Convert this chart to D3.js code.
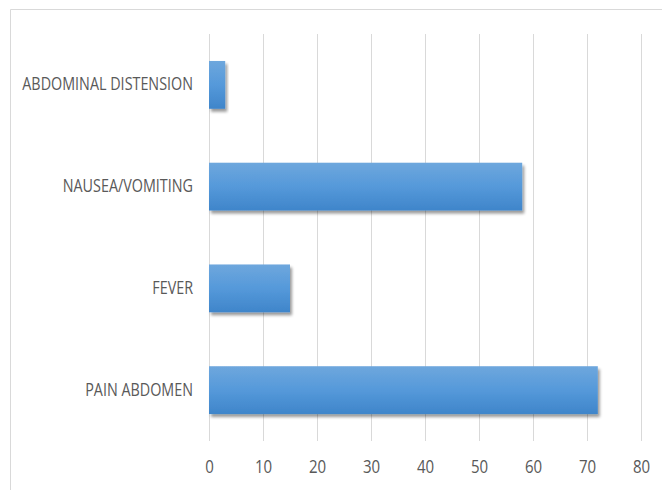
<!DOCTYPE html>
<html>
<head>
<meta charset="utf-8">
<script src="https://cdn.jsdelivr.net/npm/d3@7"></script>
<style>
  html, body { margin: 0; padding: 0; background: #fff; }
  svg { display: block; }
  text { font-family: "Open Sans", "Noto Sans", sans-serif; fill: #595959; }
</style>
</head>
<body>
<svg id="chart" width="662" height="490"></svg>
<script>
// Symptom counts
const categories = ["ABDOMINAL DISTENSION", "NAUSEA/VOMITING", "FEVER", "PAIN ABDOMEN"];
const values = [3, 58, 15, 72];
const xTicks = [0, 10, 20, 30, 40, 50, 60, 70, 80];

const svg = d3.select("#chart");
const W = 662, H = 490;
const plot = { left: 209, right: 641, top: 34, bottom: 441 };
const fontSize = 17.5;
const squeeze = 0.82;      // condensed look for labels
const tickSqueeze = 0.86;

// Outer chart frame (top and left edges visible)
svg.append("line").attr("x1", 10.5).attr("x2", W).attr("y1", 9.5).attr("y2", 9.5)
  .attr("stroke", "#d9d9d9").attr("stroke-width", 1);
svg.append("line").attr("x1", 10.5).attr("x2", 10.5).attr("y1", 9.5).attr("y2", H)
  .attr("stroke", "#d9d9d9").attr("stroke-width", 1);

const x = d3.scaleLinear().domain([0, 80]).range([plot.left, plot.right]);
const y = d3.scaleBand().domain(categories).range([plot.top, plot.bottom]).paddingInner(0.53).paddingOuter(0.265);

// Defs: bar gradient and soft shadow
const defs = svg.append("defs");
const grad = defs.append("linearGradient").attr("id", "barGrad")
  .attr("x1", 0).attr("y1", 0).attr("x2", 0).attr("y2", 1);
grad.append("stop").attr("offset", "0%").attr("stop-color", "#6ea7dd");
grad.append("stop").attr("offset", "50%").attr("stop-color", "#5599da");
grad.append("stop").attr("offset", "100%").attr("stop-color", "#3f85ca");

const shadow = defs.append("filter").attr("id", "shadow")
  .attr("x", "-10%").attr("y", "-20%").attr("width", "130%").attr("height", "150%");
shadow.append("feGaussianBlur").attr("in", "SourceAlpha").attr("stdDeviation", 1.8).attr("result", "blur");
shadow.append("feOffset").attr("in", "blur").attr("dx", 2).attr("dy", 3).attr("result", "off");
shadow.append("feComponentTransfer").attr("in", "off").attr("result", "faded")
  .append("feFuncA").attr("type", "linear").attr("slope", 0.4);
const merge = shadow.append("feMerge");
merge.append("feMergeNode").attr("in", "faded");
merge.append("feMergeNode").attr("in", "SourceGraphic");

// Vertical gridlines
svg.append("g").selectAll("line").data(xTicks).join("line")
  .attr("x1", d => Math.round(x(d)) + 0.5).attr("x2", d => Math.round(x(d)) + 0.5)
  .attr("y1", plot.top).attr("y2", plot.bottom)
  .attr("stroke", "#d9d9d9").attr("stroke-width", 1);

// X axis tick labels
const xAxis = d3.axisBottom(x).tickValues(xTicks).tickSize(0).tickPadding(0);
const gx = svg.append("g").attr("transform", `translate(0, ${plot.bottom + 20})`).call(xAxis);
gx.select(".domain").remove();
gx.selectAll("text")
  .attr("font-size", fontSize).attr("fill", "#595959")
  .style("font-family", "'Open Sans', sans-serif")
  .attr("transform", `scale(${tickSqueeze},1)`);

// Y axis category labels
const yAxis = d3.axisLeft(y).tickSize(0).tickPadding(0);
const gy = svg.append("g").attr("transform", `translate(${plot.left}, 0)`).call(yAxis);
gy.select(".domain").remove();
gy.selectAll("text")
  .attr("font-size", fontSize).attr("fill", "#595959")
  .style("font-family", "'Open Sans', sans-serif")
  .attr("x", -16 / squeeze)
  .attr("transform", `scale(${squeeze},1)`);

// Bars
svg.append("g").selectAll("rect").data(categories).join("rect")
  .attr("x", x(0))
  .attr("y", d => y(d))
  .attr("width", (d, i) => x(values[i]) - x(0))
  .attr("height", y.bandwidth())
  .attr("fill", "url(#barGrad)")
  .attr("filter", "url(#shadow)");
</script>
</body>
</html>
